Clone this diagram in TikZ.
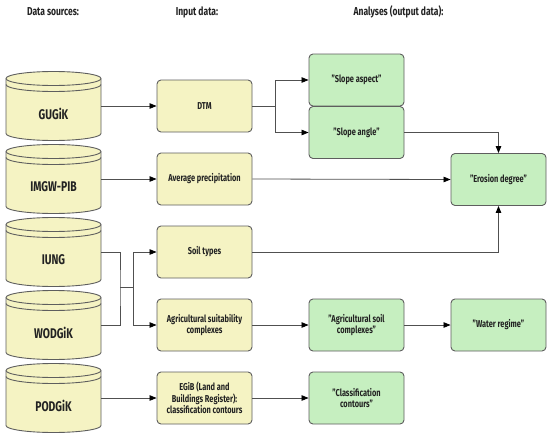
\documentclass[tikz,border=0pt]{standalone}
\usepackage{fontspec}
\setmainfont{Fira Sans}[FakeStretch=0.74]
\usetikzlibrary{arrows.meta}
\definecolor{yel}{HTML}{F5F3C3}
\definecolor{grn}{HTML}{C6EFC0}
\definecolor{edgec}{HTML}{5E5E5E}
\definecolor{wirec}{HTML}{505050}
\definecolor{txt}{HTML}{222222}
\tikzset{
  inbox/.style={draw=edgec, fill=yel, rounded corners=4pt, minimum width=95pt, minimum height=52pt,
    line width=0.9pt, align=center, font=\bfseries\fontsize{10}{11.5}\selectfont, text=txt, inner sep=2pt},
  outbox/.style={inbox, fill=grn},
  dbnode/.style={minimum width=95pt, minimum height=69pt, inner sep=0pt},
  dbtext/.style={font=\bfseries\fontsize{14}{16}\selectfont, text=txt, inner sep=0pt},
  dbline/.style={draw=edgec, fill=yel, line width=0.9pt},
  wire/.style={draw=wirec, line width=0.8pt},
  conn/.style={wire, -{Triangle[length=7pt,width=5.5pt,fill=black,color=black]}},
  hdr/.style={font=\bfseries\fontsize{11.5}{13}\selectfont, text=txt},
}
\newcommand\dbdraw[1]{%
  \begin{scope}[shift={(#1.center)}]
    \filldraw[dbline] (-47.5,27.5) -- (-47.5,-27.5)
      arc[start angle=180,end angle=360,x radius=47.5,y radius=7] -- (47.5,27.5)
      arc[start angle=0,end angle=180,x radius=47.5,y radius=7] -- cycle;
    \draw[dbline,fill=none] (-47.5,27.5) arc[start angle=180,end angle=360,x radius=47.5,y radius=7];
    \draw[dbline,fill=none] (-47.5,21.5) arc[start angle=180,end angle=360,x radius=47.5,y radius=7];
  \end{scope}}
\begin{document}
\begin{tikzpicture}[x=1pt,y=1pt]
\useasboundingbox[fill=white] (0,0) rectangle (550,-437);
% headers
\node[hdr] (h1) at (53,-12) {Data sources:};
\node[hdr] (h2) at (197,-12) {Input data:};
\node[hdr] (h3) at (398.5,-12) {Analyses (output data):};
% data sources
\node[dbnode] (gugik) at (53.5,-106) {};
\node[dbnode] (imgw) at (53.5,-179) {};
\node[dbnode] (iung) at (53.5,-252) {};
\node[dbnode] (wodgik) at (53.5,-325) {};
\node[dbnode] (podgik) at (53.5,-398) {};
\dbdraw{gugik}\dbdraw{imgw}\dbdraw{iung}\dbdraw{wodgik}\dbdraw{podgik}
\node[dbtext] (gugikT) at ([yshift=-8pt]gugik.center) {GUGiK};
\node[dbtext] (imgwT) at ([yshift=-8pt]imgw.center) {IMGW-PIB};
\node[dbtext] (iungT) at ([yshift=-8pt]iung.center) {IUNG};
\node[dbtext] (wodgikT) at ([yshift=-8pt]wodgik.center) {WODGiK};
\node[dbtext] (podgikT) at ([yshift=-8pt]podgik.center) {PODGiK};
% input data
\node[inbox] (dtm) at (204.5,-106) {DTM};
\node[inbox] (avg) at (204.5,-179) {Average precipitation};
\node[inbox] (soil) at (204.5,-252) {Soil types};
\node[inbox] (agri) at (204.5,-325) {Agricultural suitability\\complexes};
\node[inbox] (egib) at (204.5,-398) {EGiB (Land and\\Buildings Register):\\classification contours};
% outputs
\node[outbox] (aspect) at (356.5,-80) {"Slope aspect"};
\node[outbox] (angle) at (356.5,-132.5) {"Slope angle"};
\node[outbox] (erosion) at (498.5,-179.5) {"Erosion degree"};
\node[outbox] (agsoil) at (356.5,-325) {"Agricultural soil\\complexes"};
\node[outbox] (water) at (498.5,-325) {"Water regime"};
\node[outbox] (classif) at (356.5,-398) {"Classification\\contours"};
% connectors
\draw[conn] (gugik.east) -- (dtm.west);
\coordinate (dsplit) at ([xshift=23pt]dtm.east);
\draw[wire] (dtm.east) -- (dsplit);
\draw[conn] (dsplit) |- (aspect.west);
\draw[conn] (dsplit) |- (angle.west);
\draw[conn] (angle.east) -| (erosion.north);
\draw[conn] (imgw.east) -- (avg.west);
\draw[conn] (avg.east) -- (erosion.west);
\draw[conn] (soil.east) -| (erosion.south);
\coordinate (mrg) at (120,-287);
\coordinate (fork) at (133,-287);
\draw[wire] (iung.east) -| (mrg) |- (wodgik.east);
\draw[wire] (mrg) -- (fork);
\draw[conn] (fork) |- (soil.west);
\draw[conn] (fork) |- (agri.west);
\draw[conn] (agri.east) -- (agsoil.west);
\draw[conn] (agsoil.east) -- (water.west);
\draw[conn] (podgik.east) -- (egib.west);
\draw[conn] (egib.east) -- (classif.west);
\end{tikzpicture}
\end{document}
